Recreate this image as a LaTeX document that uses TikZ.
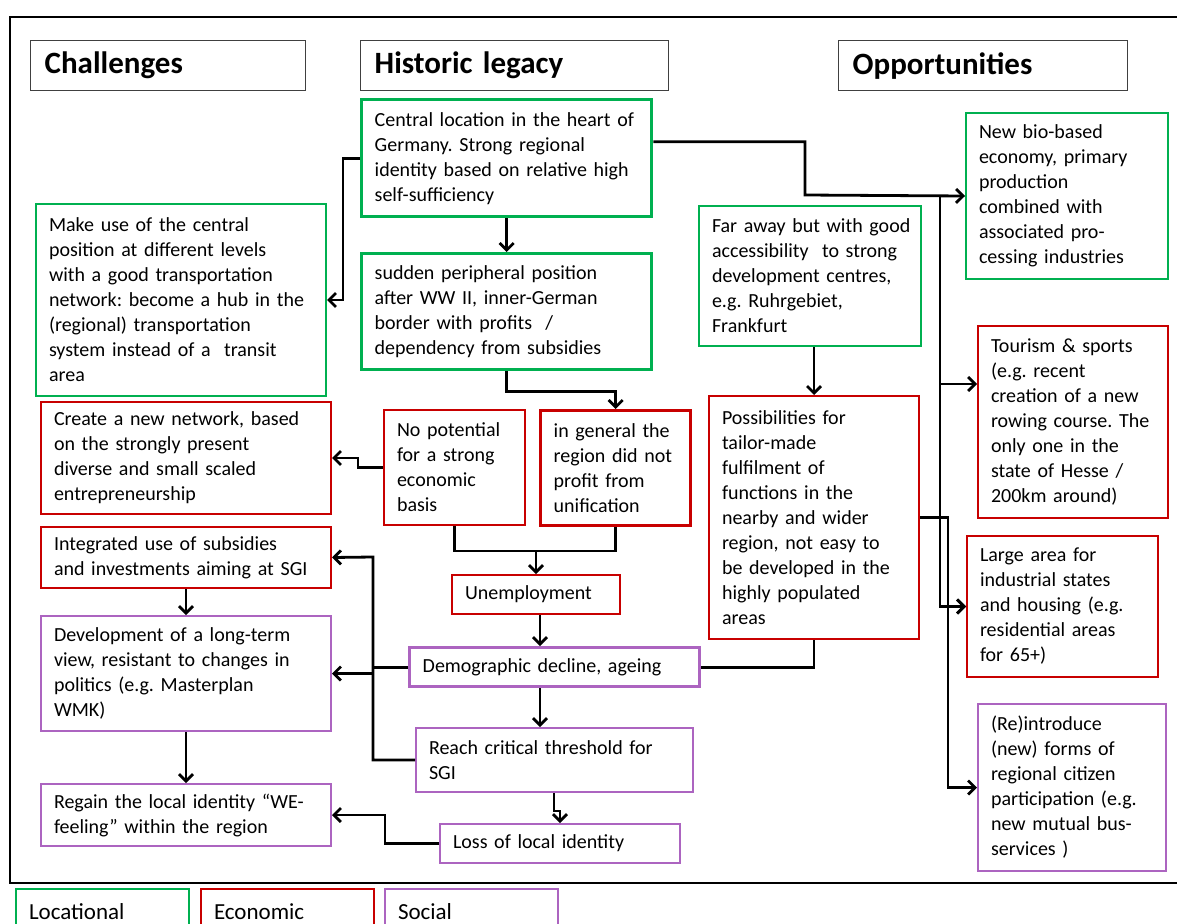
\documentclass[tikz,border=0pt]{standalone}
\usepackage{fontspec}
\setmainfont{Carlito}
\usepackage{tikz}
\usepackage{xcolor}
\usetikzlibrary{positioning,shapes,arrows.meta,calc}
\definecolor{locgreen}{RGB}{0,176,80}
\definecolor{ecored}{RGB}{200,0,0}
\definecolor{socpurple}{RGB}{172,100,192}
\frenchspacing

\begin{document}
\begin{tikzpicture}[x=1bp, y=-1bp,
    box/.style={draw, rectangle, anchor=north west, align=left, inner xsep=13bp, inner ysep=4bp,
        line width=2bp, font=\fontsize{20bp}{25bp}\selectfont},
    loc/.style={box, draw=locgreen},
    eco/.style={box, draw=ecored},
    soc/.style={box, draw=socpurple},
    heavy/.style={line width=3.4bp},
    hdr/.style={draw=black!75, rectangle, anchor=north west, align=left, inner xsep=14bp,
        line width=1.4bp, minimum height=50bp, font=\fontsize{31bp}{34bp}\selectfont\bfseries},
    legend/.style={box, minimum width=173bp, text width=147bp, minimum height=46bp,
        font=\fontsize{23bp}{26bp}\selectfont},
    flow/.style={-{Straight Barb[length=7bp, width=14bp]}, line width=2.8bp},
    link/.style={line width=2.8bp}]
    \useasboundingbox (0,0) rectangle (1177,924);
    \clip (0,0) rectangle (1177,924);
    \draw[line width=2.5bp] (1200,17) -- (10,17) -- (10,883) -- (1200,883);

    \node[hdr, minimum width=275bp, text width=247bp] (hch) at (30,40) {Challenges};
    \node[hdr, minimum width=308bp, text width=280bp] (hhist) at (360,40) {Historic legacy};
    \node[hdr, minimum width=289bp, text width=261bp] (hopp) at (838,40) {Opportunities};

    \node[loc, heavy, minimum width=290bp, text width=264bp, minimum height=117bp] (cent) at (360,98)
        {Central location in the heart of\\Germany. Strong regional\\identity based on relative high\\self-sufficiency};
    \node[loc, heavy, minimum width=290bp, text width=264bp, minimum height=116bp] (sudden) at (360,252)
        {sudden peripheral position\\after WW II, inner-German\\border with profits\ \ /\\dependency from subsidies};
    \node[loc, minimum width=290bp, text width=264bp, minimum height=192bp] (makeuse) at (35,203)
        {Make use of the central\\position at different levels\\with a good transportation\\network: become a hub in the\\(regional) transportation\\system instead of a\ \ transit\\area};
    \node[loc, minimum width=222bp, text width=196bp, minimum height=140bp] (faraway) at (698,205)
        {\mbox{Far away but with good}\\\mbox{accessibility\ \ to strong}\\development centres,\\e.g. Ruhrgebiet,\\Frankfurt};
    \node[loc, minimum width=202bp, text width=176bp, minimum height=166bp] (bio) at (965,112)
        {New bio-based\\economy, primary\\production\\combined with\\associated pro-\\cessing industries};

    \node[eco, minimum width=190bp, text width=164bp, minimum height=192bp] (tour) at (977,325)
        {Tourism \& sports\\(e.g. recent\\creation of a new\\rowing course. The\\only one in the\\state of Hesse\ /\\200km around)};
    \node[eco, minimum width=191bp, text width=165bp, minimum height=141bp] (large) at (966,535)
        {Large area for\\industrial states\\and housing (e.g.\\residential areas\\for 65+)};
    \node[eco, minimum width=290bp, text width=264bp, minimum height=112bp] (create) at (40,401)
        {Create a new network, based\\on the strongly present\\diverse and small scaled\\entrepreneurship};
    \node[eco, minimum width=141bp, text width=115bp, minimum height=115bp] (nopot) at (383,409)
        {No potential\\for a strong\\economic\\basis};
    \node[eco, heavy, minimum width=150bp, text width=124bp, minimum height=115bp] (ingen) at (539,409)
        {in general the\\region did not\\profit from\\unification};
    \node[eco, minimum width=290bp, text width=264bp, minimum height=61bp] (integ) at (40,526)
        {Integrated use of subsidies\\and investments aiming at SGI};
    \node[eco, minimum width=168bp, text width=142bp, minimum height=39bp] (unemp) at (451,574)
        {Unemployment};
    \node[eco, minimum width=210bp, text width=184bp, minimum height=243bp] (poss) at (708,395)
        {Possibilities for\\tailor-made\\fulfilment of\\functions in the\\nearby and wider\\region, not easy to\\be developed in the\\highly populated\\areas};

    \node[soc, minimum width=188bp, text width=162bp, minimum height=167bp] (reint) at (977,703)
        {(Re)introduce\\(new) forms of\\regional citizen\\participation (e.g.\\new mutual bus-\\services )};
    \node[soc, minimum width=290bp, text width=264bp, minimum height=115bp] (devel) at (40,615)
        {Development of a long-term\\view, resistant to changes in\\politics (e.g. Masterplan\\WMK)};
    \node[soc, heavy, minimum width=290bp, text width=264bp, minimum height=39bp] (demo) at (408,646)
        {Demographic decline, ageing};
    \node[soc, minimum width=277bp, text width=251bp, minimum height=64bp] (reach) at (415,727)
        {Reach critical threshold for\\SGI};
    \node[soc, minimum width=290bp, text width=264bp, minimum height=62bp] (regain) at (40,783)
        {Regain the local identity “WE-\\feeling” within the region};
    \node[soc, minimum width=240bp, text width=214bp, minimum height=39bp] (loss) at (439,823)
        {Loss of local identity};

    \node[legend, draw=locgreen] (lloc) at (15,888) {Locational};
    \node[legend, draw=ecored] (leco) at (200,888) {Economic};
    \node[legend, draw=socpurple] (lsoc) at (384,888) {Social};

    \coordinate (jtop) at (805,195);
    \coordinate (jbus) at (940,195);
    \coordinate (busL) at (373,557);

    \draw[flow] (cent) -- (sudden);
    \draw[flow] (cent.west) -- ++(-17,0) |- (makeuse.east);
    \draw[flow] ([yshift=16.5bp]cent.east) -| (jtop) -- (bio.west);
    \draw[flow] (jbus) |- ([yshift=38bp]tour.west);
    \draw[flow] (jbus) |- (large.west);
    \draw[flow] (poss.east) -- ++(28,0) |- (large.west);
    \draw[flow] (poss.east) -- ++(28,0) |- (reint.west);
    \draw[flow] (faraway.south -| poss.north) -- (poss.north);
    \draw[flow] (sudden.south) -- ++(0,20) -| (ingen.north);
    \draw[flow] (nopot.west) -- ++(-25,0) |- (create.east);
    \draw[link] (nopot.south) -- ++(0,25) coordinate (jun) -| (ingen.south);
    \draw[flow] (jun -| unemp.north) -- (unemp.north);
    \draw[flow] (unemp.south -| 540,0) -- (demo.north -| 540,0);
    \draw[flow] (demo.south -| 540,0) -- (reach.north -| 540,0);
    \draw[flow] (reach.south -| 554,0) -- ++(0,18) -| (loss.north);
    \draw[link] (demo.west) -- (busL |- demo.west);
    \draw[flow] (reach.west) -| (busL) -- (integ.east);
    \draw[flow] (busL |- devel.east) -- (devel.east);
    \draw[flow] (loss.west) -- ++(-54,0) |- (regain.east);
    \draw[flow] (integ) -- (devel);
    \draw[flow] (devel) -- (regain);
    \draw[link] (demo.east) -| (poss.south);
\end{tikzpicture}
\end{document}
